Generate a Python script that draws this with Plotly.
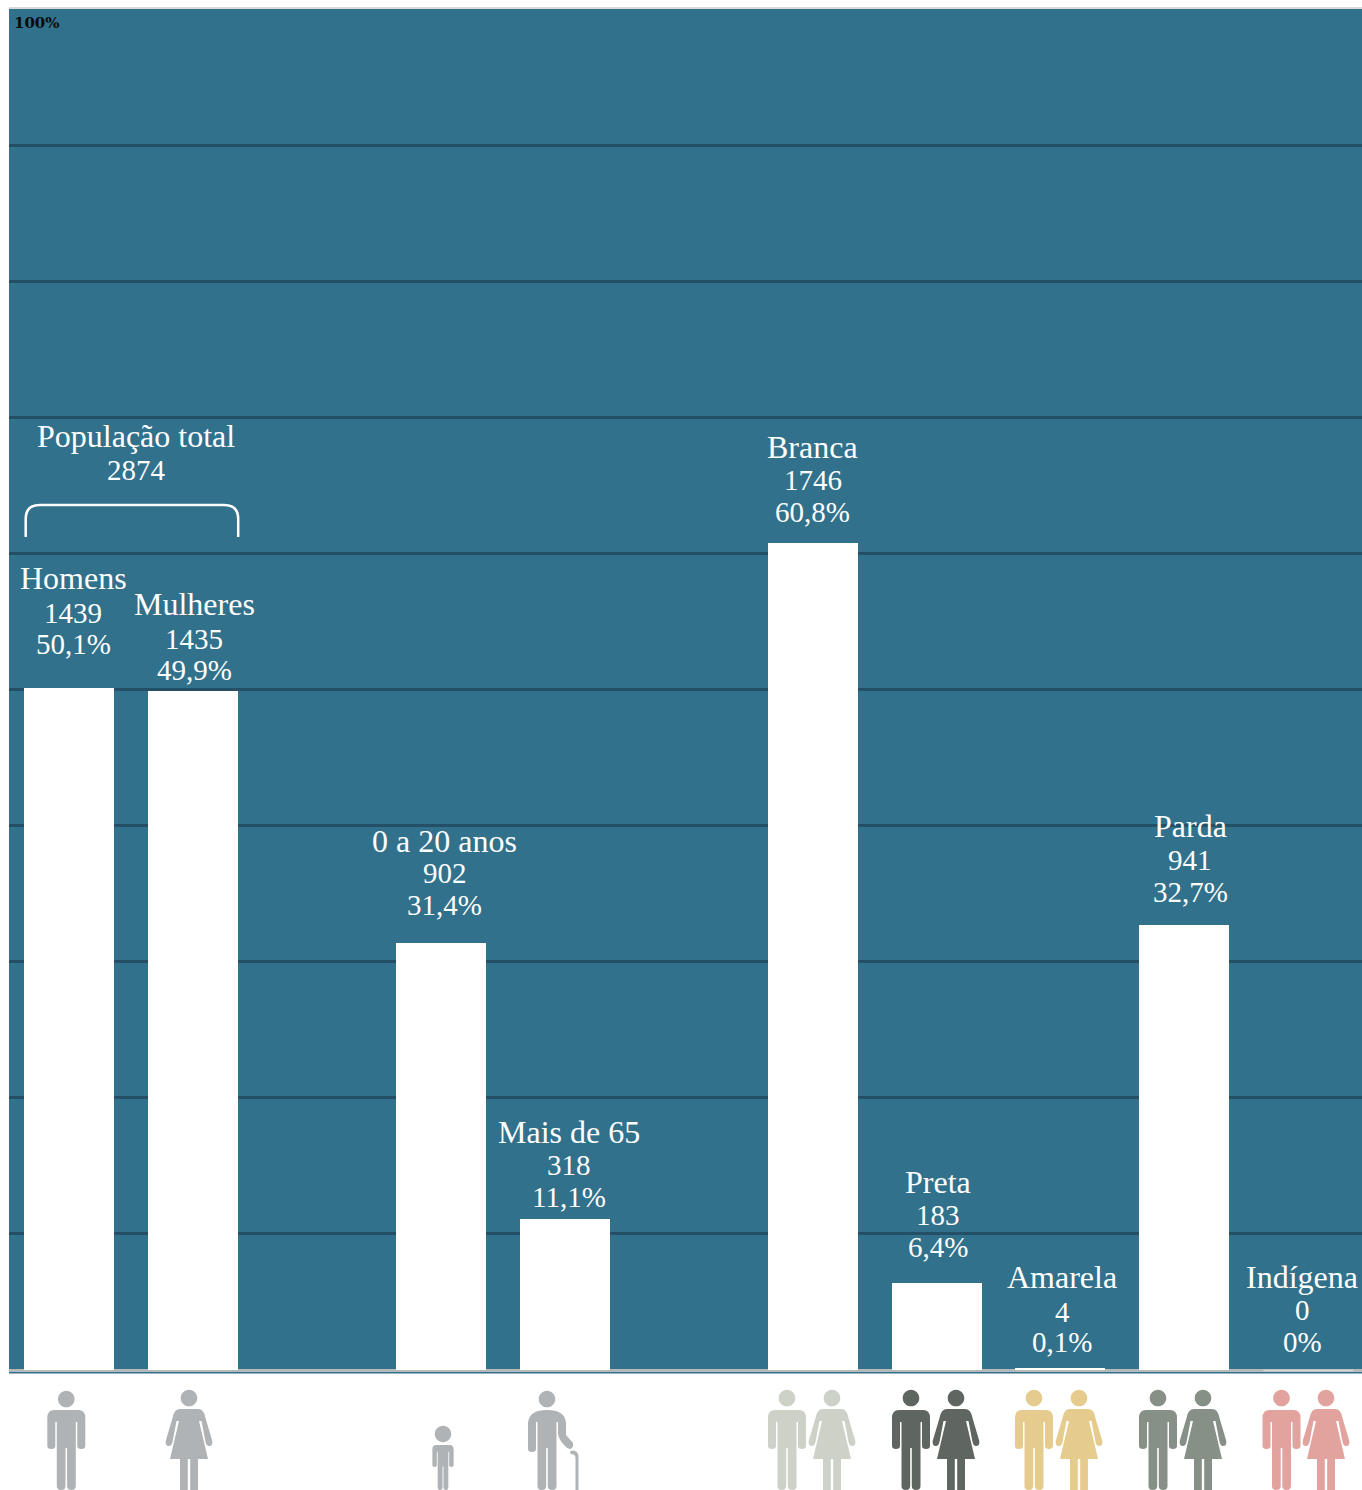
import plotly.graph_objects as go

# ---- data ----
categories = ["Homens", "Mulheres", "gap1", "0 a 20 anos", "Mais de 65", "gap2",
              "Branca", "Preta", "Amarela", "Parda", "Indígena"]
counts = [1439, 1435, None, 902, 318, None, 1746, 183, 4, 941, 0]
percents = [50.1, 49.9, None, 31.4, 11.1, None, 60.8, 6.4, 0.1, 32.7, 0]
percent_text = ["50,1%", "49,9%", None, "31,4%", "11,1%", None, "60,8%", "6,4%", "0,1%", "32,7%", "0%"]
total_label = "População total"
total_value = "2874"
grid_ticks = [0, 10, 20, 30, 40, 50, 60, 70, 80, 90, 100]
top_tick_label = "100%"

# ---- layout constants ----
W, H = 1362, 1490
L, T, BASE = 9, 9, 1370
PW, PH = W - L, BASE - T
BG = "#32718B"
GRID = "#244F66"
FONT = "Liberation Serif"
FS = 29
FS_TITLE = 32
XR = [-0.486, 10.434]

# label offsets: (xshift, title, value, percent) px above bar top
label_offsets = {
    "Homens": (4, 110, 75, 44),
    "Mulheres": (1, 87, 52, 21),
    "0 a 20 anos": (4, 102, 70, 38),
    "Mais de 65": (4, 87, 54, 22),
    "Branca": (0, 96, 63, 31),
    "Preta": (1, 101, 68, 36),
    "Amarela": (2, 92, 57, 27),
    "Parda": (6, 99, 65, 33),
    "Indígena": (-6, 93, 60, 28),
}

fig = go.Figure(go.Bar(
    x=categories, y=percents, width=0.726,
    marker=dict(color="white", line=dict(width=0)),
    hoverinfo="skip",
))


def px(x):
    return (x - L) / PW


def py(y):
    return (BASE - y) / PH


annotations = []
for c, n, p, pt in zip(categories, counts, percents, percent_text):
    if n is None:
        continue
    xs, a, b, d = label_offsets[c]
    for txt, off, fs in ((c, a, FS_TITLE), (str(n), b, FS), (pt, d, FS)):
        annotations.append(dict(
            x=c, xref="x", y=p, yref="y", xshift=xs, yshift=off,
            text=txt, showarrow=False, xanchor="center", yanchor="middle",
            font=dict(family=FONT, size=fs, color="white"),
        ))
for txt, y, fs in ((total_label, 436, FS_TITLE), (total_value, 470, FS)):
    annotations.append(dict(
        x=px(136), xref="paper", y=py(y), yref="paper", text=txt, showarrow=False,
        xanchor="center", yanchor="middle",
        font=dict(family=FONT, size=fs, color="white"),
    ))
annotations.append(dict(
    x=px(12), xref="paper", y=py(23), yref="paper", text="<b>%s</b>" % top_tick_label,
    showarrow=False, xanchor="left", yanchor="middle",
    font=dict(family="DejaVu Serif", size=15, color="#0a0a0a"),
))

# ---- pictograms (pixel paths, y upwards from the baseline) ----


def scale_path(segs, sx=1.0, sy=1.0):
    out = []
    for s in segs:
        if isinstance(s, str):
            out.append(s)
        else:
            out.append("%.2f,%.2f" % (s[0] * sx, s[1] * sy))
    return " ".join(out)


MAN = ["M", (-12, 80), "L", (12, 80), "Q", (19, 80), (19, 72), "L", (19, 44), "Q", (19, 41), (15, 41),
       "Q", (11, 41), (11, 44), "L", (11, 68), "L", (9.5, 68), "L", (9.5, 4), "Q", (9.5, 0), (5.2, 0),
       "Q", (0.8, 0), (0.8, 4), "L", (0.8, 42), "L", (-0.8, 42), "L", (-0.8, 4), "Q", (-0.8, 0), (-5.2, 0),
       "Q", (-9.5, 0), (-9.5, 4), "L", (-9.5, 68), "L", (-11, 68), "L", (-11, 44), "Q", (-11, 41), (-15, 41),
       "Q", (-19, 41), (-19, 44), "L", (-19, 72), "Q", (-19, 80), (-12, 80), "Z"]

WOMAN = ["M", (-9, 81), "L", (9, 81), "Q", (15, 81), (16.5, 72), "L", (23.3, 49), "Q", (24, 44), (20, 44),
         "Q", (17.5, 44), (16.5, 48), "L", (12.5, 69), "L", (10, 69), "L", (19, 31), "L", (9, 31), "L", (9, 0),
         "L", (1.2, 0), "L", (1.2, 31), "L", (-1.2, 31), "L", (-1.2, 0), "L", (-9, 0), "L", (-9, 31),
         "L", (-19, 31), "L", (-10, 69), "L", (-12.5, 69), "L", (-16.5, 48), "Q", (-17.5, 44), (-20, 44),
         "Q", (-24, 44), (-23.3, 49), "L", (-16.5, 72), "Q", (-15, 81), (-9, 81), "Z"]

ELDER = ["M", (-19, 67), "Q", (-18, 80), (0, 80), "Q", (18, 80), (19, 67), "L", (19, 55), "L", (26, 47),
         "Q", (27, 42), (23, 41), "Q", (20, 41), (18, 44), "Q", (12, 50), (11, 56), "L", (11, 68), "L", (9.5, 68),
         "L", (9.5, 4), "Q", (9.5, 0), (5.2, 0), "Q", (0.8, 0), (0.8, 4), "L", (0.8, 42), "L", (-0.8, 42),
         "L", (-0.8, 4), "Q", (-0.8, 0), (-5.2, 0), "Q", (-9.5, 0), (-9.5, 4), "L", (-9.5, 68), "L", (-11, 68),
         "L", (-11, 41), "Q", (-11, 38), (-15, 38), "Q", (-19, 38), (-19, 41), "Z"]

CANE = ["M", (24, 39), "Q", (22, 37.5), (24, 36), "Q", (28.5, 36), (28.5, 32), "L", (28.5, 0), "L", (31.5, 0),
        "L", (31.5, 33), "Q", (31.5, 39), (26, 39.5), "Z"]


def head(h, r=8.3):
    k = 0.5523 * r
    segs = ["M", (-r, h), "C", (-r, h + k), (-k, h + r), (0, h + r), "C", (k, h + r), (r, h + k), (r, h),
            "C", (r, h - k), (k, h - r), (0, h - r), "C", (-k, h - r), (-r, h - k), (-r, h), "Z"]
    return segs


icons = [
    (66.3, "#AFB3B5", [MAN, head(91)], 1.0),
    (189, "#AFB3B5", [WOMAN, head(92)], 1.0),
    (547, "#AFB3B5", [ELDER, CANE, head(91)], 1.0),
]
couples = [(787, 832, "#CDD1C8"), (911, 956, "#5F6560"), (1034, 1079, "#E6CB8E"),
           (1158, 1203, "#879087"), (1281.5, 1326, "#E2A39E")]
for m, w, col in couples:
    icons.append((m, col, [MAN, head(92)], 1.0))
    icons.append((w, col, [WOMAN, head(92)], 1.0))

shapes = []
for cx, col, parts, s in icons:
    path = " ".join(scale_path(p, s, s) for p in parts)
    shapes.append(dict(type="path", xref="paper", yref="paper", xsizemode="pixel", ysizemode="pixel",
                       xanchor=px(cx), yanchor=py(1490), path=path,
                       fillcolor=col, line=dict(width=0), layer="above"))
# child: body scaled, head full size
child = scale_path(MAN, 0.56, 0.5625) + " " + scale_path(head(56, 8.2))
shapes.append(dict(type="path", xref="paper", yref="paper", xsizemode="pixel", ysizemode="pixel",
                   xanchor=px(443), yanchor=py(1490), path=child,
                   fillcolor="#AFB3B5", line=dict(width=0), layer="above"))

# bracket over Homens / Mulheres
bracket = ("M 0,0 L 0,18 Q 0,32 14,32 L 198.5,32 Q 212.5,32 212.5,18 L 212.5,0")
shapes.append(dict(type="path", xref="paper", yref="paper", xsizemode="pixel", ysizemode="pixel",
                   xanchor=px(25.7), yanchor=py(537), path=bracket,
                   line=dict(color="white", width=2.5), layer="above"))

# top hairline and baseline rules
shapes.append(dict(type="line", xref="paper", yref="paper", x0=0, x1=1, y0=py(8), y1=py(8),
                   line=dict(color="#C8CBCD", width=1.5), layer="below"))
shapes.append(dict(type="line", xref="paper", yref="paper", x0=0, x1=1, y0=py(1370.5), y1=py(1370.5),
                   line=dict(color="#B4BABC", width=3), layer="below"))
shapes.append(dict(type="line", xref="paper", yref="paper", x0=0, x1=1, y0=py(1372.8), y1=py(1372.8),
                   line=dict(color=BG, width=1.5), layer="above"))
# the empty Indígena bar leaves only a pale trace on the baseline
shapes.append(dict(type="line", xref="x", yref="paper", x0=9.637, x1=10.363, y0=py(1370.5), y1=py(1370.5),
                   line=dict(color="#D3D7D8", width=1.5), layer="above"))

fig.update_layout(
    width=W, height=H,
    margin=dict(l=L, r=0, t=T, b=H - BASE, pad=0),
    paper_bgcolor="white", plot_bgcolor=BG,
    showlegend=False, bargap=0,
    xaxis=dict(type="category", categoryorder="array", categoryarray=categories, range=XR,
               showticklabels=False, showgrid=False, zeroline=False, ticks="", showline=False),
    yaxis=dict(range=[0, 100], tickvals=grid_ticks, showticklabels=False, showgrid=True,
               gridcolor=GRID, gridwidth=3, zeroline=False, ticks="", showline=False),
    annotations=annotations, shapes=shapes,
)

fig.write_html("out.html", config=dict(displayModeBar=False), post_script="document.body.style.margin='0';")
